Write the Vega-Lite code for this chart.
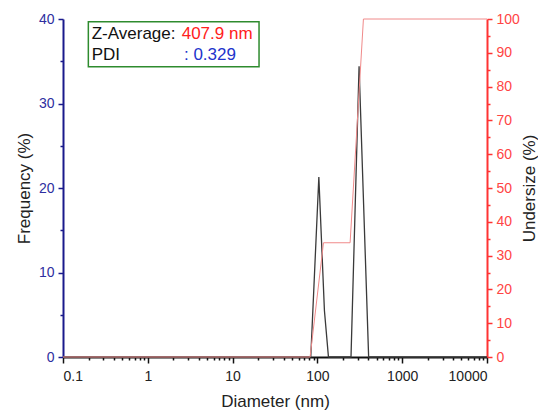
{
  "$schema": "https://vega.github.io/schema/vega-lite/v6.json",
  "width": 424,
  "height": 338,
  "autosize": {"type": "none"},
  "padding": {"left": 63, "top": 19, "right": 51, "bottom": 53},
  "background": "white",
  "config": {
    "view": {"stroke": null},
    "font": "Liberation Sans",
    "axis": {
      "grid": false,
      "labelFont": "Liberation Sans",
      "titleFont": "Liberation Sans",
      "labelFontSize": 14,
      "titleFontSize": 17,
      "titleFontWeight": "normal",
      "titleColor": "#222222"
    }
  },
  "datasets": {
    "freq": [
      {"diameter": 0.1, "frequency": 0},
      {"diameter": 83.5, "frequency": 0},
      {"diameter": 104, "frequency": 21.3},
      {"diameter": 121, "frequency": 5.5},
      {"diameter": 135, "frequency": 0},
      {"diameter": 249, "frequency": 0},
      {"diameter": 310, "frequency": 34.4},
      {"diameter": 402, "frequency": 0},
      {"diameter": 10000, "frequency": 0}
    ],
    "under": [
      {"diameter": 0.1, "undersize": 0},
      {"diameter": 82, "undersize": 0},
      {"diameter": 118, "undersize": 33.8},
      {"diameter": 243, "undersize": 33.8},
      {"diameter": 349, "undersize": 100},
      {"diameter": 10000, "undersize": 100}
    ],
    "box": [
      {"x1": 0.199, "x2": 20.5, "y1": 34.36, "y2": 39.68}
    ],
    "notes": [
      {"x": 0.218, "y": 37.6, "label": "Z-Average:", "part": "label"},
      {"x": 2.51, "y": 37.6, "label": "407.9 nm", "part": "zavg"},
      {"x": 0.218, "y": 35.15, "label": "PDI", "part": "label"},
      {"x": 2.67, "y": 35.15, "label": ": 0.329", "part": "pdi"}
    ]
  },
  "layer": [
    {
      "data": {"name": "freq"},
      "mark": {"type": "line", "color": "#3a3a3a", "strokeWidth": 1.3},
      "encoding": {
        "x": {
          "field": "diameter", "type": "quantitative",
          "scale": {"type": "log", "domain": [0.1, 10000], "nice": false},
          "axis": {
            "orient": "bottom",
            "values": [0.1, 1, 10, 100, 1000, 10000],
            "format": "~g",
            "title": "Diameter (nm)",
            "tickSize": 6, "tickWidth": 1.5,
            "domainWidth": 2, "domainColor": "#111111", "tickColor": "#111111",
            "labelColor": "#222222", "labelPadding": 6, "titlePadding": 10
          }
        },
        "y": {
          "field": "frequency", "type": "quantitative",
          "scale": {"domain": [0, 40], "nice": false},
          "axis": {
            "orient": "left",
            "values": [0, 10, 20, 30, 40],
            "title": "Frequency (%)",
            "tickSize": 5, "tickWidth": 1.5,
            "domainWidth": 2, "domainColor": "#1a1a8c", "tickColor": "#1a1a8c",
            "labelColor": "#2e2ea0", "labelPadding": 4, "titlePadding": 5
          }
        }
      }
    },
    {
      "data": {"name": "under"},
      "mark": {"type": "line", "color": "#f08a8a", "strokeWidth": 1},
      "encoding": {
        "x": {
          "field": "diameter", "type": "quantitative",
          "scale": {"type": "log", "domain": [0.1, 10000], "nice": false},
          "axis": null
        },
        "y": {
          "field": "undersize", "type": "quantitative",
          "scale": {"domain": [0, 100], "nice": false},
          "axis": {
            "orient": "right",
            "values": [0, 10, 20, 30, 40, 50, 60, 70, 80, 90, 100],
            "title": "Undersize (%)",
            "titleAngle": 270,
            "titleBaseline": "top",
            "tickSize": 5, "tickWidth": 1.5,
            "domainWidth": 2, "domainColor": "#ff3333", "tickColor": "#ff3333",
            "labelColor": "#ff4444", "labelPadding": 4, "titlePadding": 2
          }
        }
      }
    },
    {
      "data": {"name": "freq"},
      "mark": {"type": "line", "strokeOpacity": 0},
      "encoding": {
        "x": {
          "field": "diameter", "type": "quantitative",
          "scale": {"type": "log", "domain": [0.1, 10000], "nice": false},
          "axis": {
            "orient": "bottom",
            "values": [0.2, 0.3, 0.4, 0.5, 0.6, 0.7, 0.8, 0.9, 2, 3, 4, 5, 6, 7, 8, 9, 20, 30, 40, 50, 60, 70, 80, 90, 200, 300, 400, 500, 600, 700, 800, 900, 2000, 3000, 4000, 5000, 6000, 7000, 8000, 9000],
            "labels": false, "title": null, "domain": false,
            "tickSize": 3, "tickWidth": 1.5, "tickColor": "#111111"
          }
        },
        "y": {
          "field": "frequency", "type": "quantitative",
          "scale": {"domain": [0, 40], "nice": false},
          "axis": {
            "orient": "left",
            "values": [5, 15, 25, 35],
            "labels": false, "title": null, "domain": false,
            "tickSize": 3, "tickWidth": 1.5, "tickColor": "#1a1a8c"
          }
        }
      }
    },
    {
      "data": {"name": "under"},
      "mark": {"type": "line", "strokeOpacity": 0},
      "encoding": {
        "x": {
          "field": "diameter", "type": "quantitative",
          "scale": {"type": "log", "domain": [0.1, 10000], "nice": false},
          "axis": null
        },
        "y": {
          "field": "undersize", "type": "quantitative",
          "scale": {"domain": [0, 100], "nice": false},
          "axis": {
            "orient": "right",
            "values": [5, 15, 25, 35, 45, 55, 65, 75, 85, 95],
            "labels": false, "title": null, "domain": false,
            "tickSize": 3, "tickWidth": 1.5, "tickColor": "#ff3333"
          }
        }
      }
    },
    {
      "data": {"name": "box"},
      "mark": {"type": "rect", "fill": "white", "stroke": "#2e8b2e", "strokeWidth": 1.5},
      "encoding": {
        "x": {"field": "x1", "type": "quantitative", "scale": {"type": "log", "domain": [0.1, 10000], "nice": false}, "axis": null},
        "x2": {"field": "x2"},
        "y": {"field": "y1", "type": "quantitative", "scale": {"domain": [0, 40], "nice": false}, "axis": null},
        "y2": {"field": "y2"}
      }
    },
    {
      "data": {"name": "notes"},
      "mark": {"type": "text", "align": "left", "baseline": "alphabetic", "fontSize": 17, "font": "Liberation Sans"},
      "encoding": {
        "x": {"field": "x", "type": "quantitative", "scale": {"type": "log", "domain": [0.1, 10000], "nice": false}, "axis": null},
        "y": {"field": "y", "type": "quantitative", "scale": {"domain": [0, 40], "nice": false}, "axis": null},
        "text": {"field": "label"},
        "color": {
          "field": "part", "type": "nominal",
          "scale": {"domain": ["label", "zavg", "pdi"], "range": ["#111111", "#ff2020", "#2233cc"]},
          "legend": null
        }
      }
    }
  ],
  "resolve": {"scale": {"y": "independent"}, "axis": {"x": "independent"}}
}
